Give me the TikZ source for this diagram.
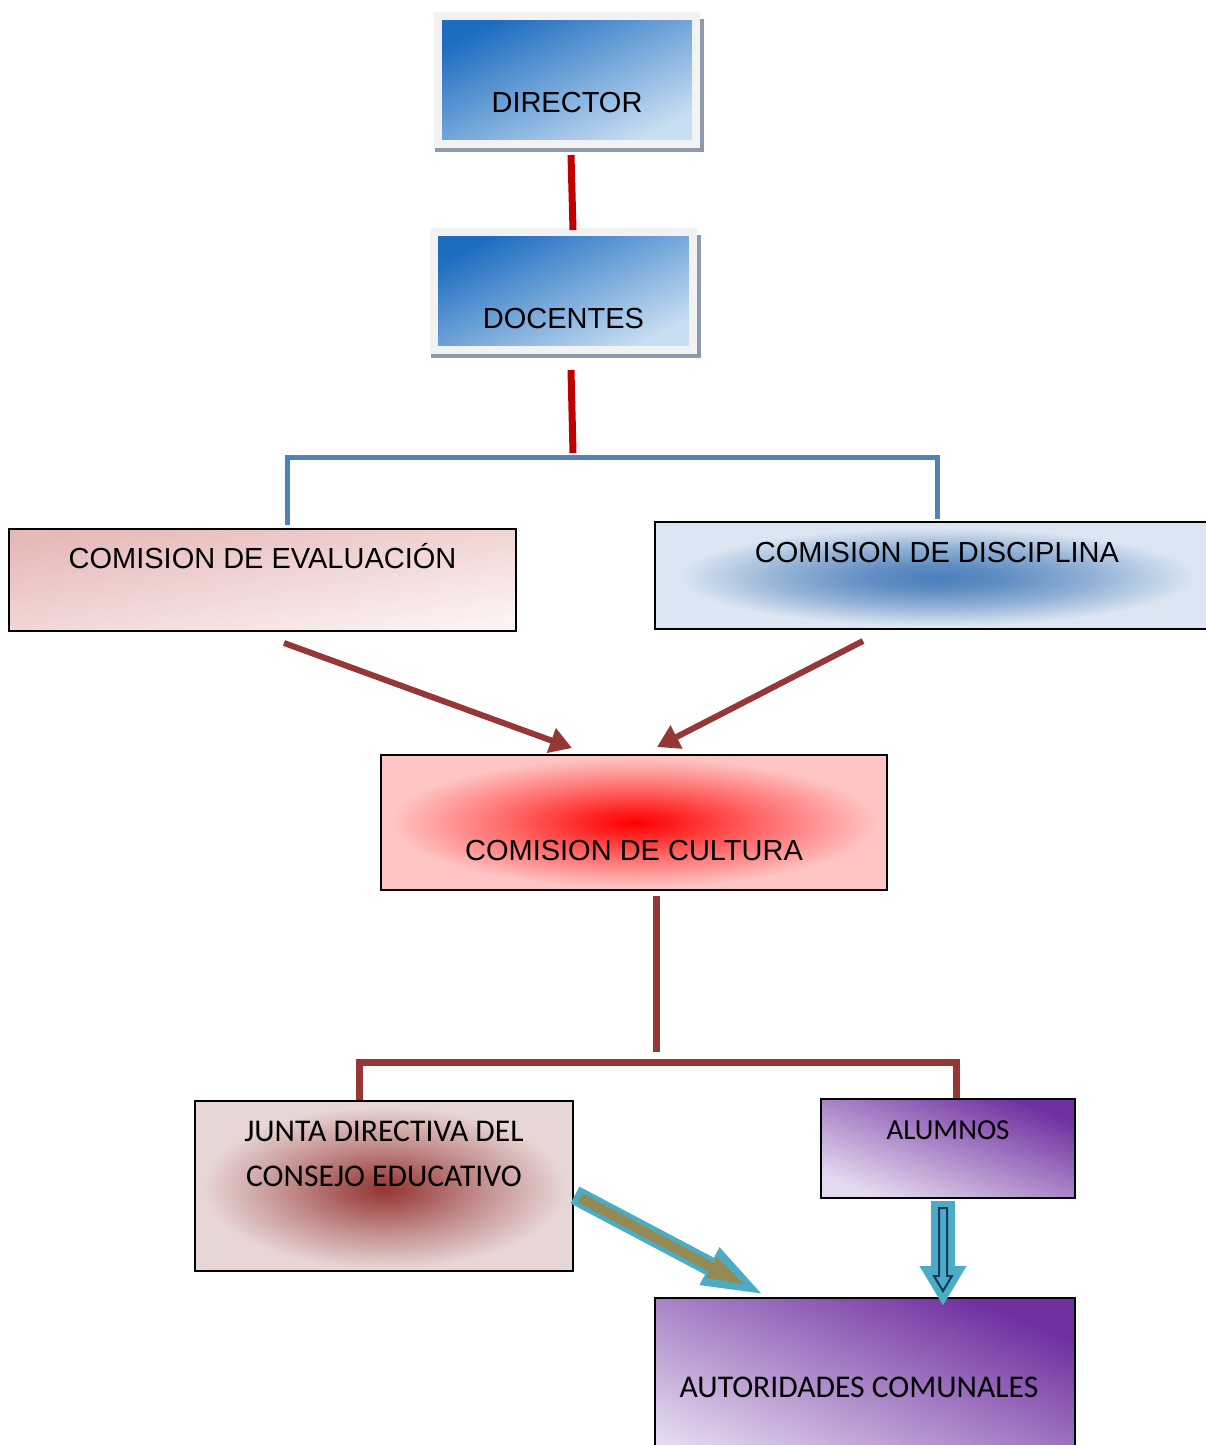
\documentclass[tikz,border=0pt]{standalone}
\usepackage{fontspec}
\setmainfont{Liberation Sans}
\newfontfamily\calibrifont{Carlito}
\usepackage{xcolor}
\usepackage{tikz}
\usetikzlibrary{arrows.meta, positioning, calc, shadows}
\definecolor{orgblue}{HTML}{1C6CC0}
\definecolor{orgbluelight}{HTML}{C8DEF2}
\definecolor{framegray}{HTML}{F2F2F2}
\definecolor{shadowgray}{HTML}{8E9AAB}
\definecolor{linered}{HTML}{C00000}
\definecolor{lineblue}{HTML}{4F81BD}
\definecolor{darkred}{HTML}{953735}
\definecolor{evalpink}{HTML}{E6B9B8}
\definecolor{evallight}{HTML}{FBF2F2}
\definecolor{disclight}{HTML}{DCE6F2}
\definecolor{discblue}{HTML}{4A7EBB}
\definecolor{cultpink}{HTML}{FFC4C4}
\definecolor{cultred}{HTML}{FF0000}
\definecolor{juntalight}{HTML}{E8D6D6}
\definecolor{juntadark}{HTML}{953735}
\definecolor{purpledark}{HTML}{7030A0}
\definecolor{purplelight}{HTML}{E4DAEF}
\definecolor{arrowcyan}{HTML}{4BACC6}
\definecolor{arrowolive}{HTML}{948A54}
\definecolor{arrownavy}{HTML}{17375E}
\pgfdeclareradialshading{juntashade}{\pgfpoint{0bp}{-1bp}}{color(0bp)=(juntadark); color(4bp)=(juntadark!85!juntalight);
    color(13bp)=(juntadark!45!juntalight); color(24bp)=(juntalight); color(50bp)=(juntalight)}
\pgfdeclareradialshading{culturashade}{\pgfpoint{0bp}{0bp}}{color(0bp)=(cultred); color(4bp)=(cultred!85!cultpink);
    color(13bp)=(cultred!45!cultpink); color(24bp)=(cultpink); color(50bp)=(cultpink)}
\pgfdeclareradialshading{disciplinashade}{\pgfpoint{0bp}{-1bp}}{color(0bp)=(discblue); color(6bp)=(discblue!85!disclight);
    color(14bp)=(discblue!50!disclight); color(23bp)=(disclight); color(50bp)=(disclight)}

\begin{document}
\begin{tikzpicture}[
    x=0.02cm, y=-0.02cm,
    topbox/.style={rectangle, draw=framegray, line width=0.16cm, top color=orgblue, bottom color=orgbluelight,
                   shading angle=26, minimum width=5.18cm, text depth=0pt, font=\fontsize{16.5}{20}\selectfont,
                   drop shadow={shadow xshift=0.05cm, shadow yshift=-0.1cm, shadow scale=1.04, fill=shadowgray, opacity=1}},
    orgbox/.style={rectangle, draw=black, line width=0.04cm, font=\fontsize{16.5}{20}\selectfont},
    calibribox/.style={orgbox, font=\calibrifont\fontsize{#1}{25.5}\selectfont},
    redline/.style={draw=linered, line width=0.14cm},
    blueline/.style={draw=lineblue, line width=0.1cm},
    bracketred/.style={draw=darkred, line width=0.14cm},
    arrowline/.style={draw=darkred, line width=0.12cm, -{Triangle[length=0.44cm, width=0.5cm]}},
    fatarrow/.style={draw=arrowcyan, line width=0.38cm, -{Triangle[length=1.28cm, width=0.74cm]}},
    fatinner/.style={draw=arrowolive, line width=0.2cm, -{Triangle[length=0.86cm, width=0.4cm]},
                     shorten <=0.12cm, shorten >=0.38cm},
    downarrow/.style={draw=arrowcyan, line width=0.48cm, -{Triangle[length=0.8cm, width=0.88cm]}},
]
\path[use as bounding box, clip] (0,0) rectangle (1206,1445);

% Top of the chart
\node[topbox, minimum height=2.56cm, text height=1.28cm] (director) at (567,80) {DIRECTOR};
\node[topbox, minimum height=2.36cm, text height=1.48cm] (docentes) at (563.5,291) {DOCENTES};

% Commissions
\node[orgbox, minimum width=10.14cm, minimum height=2.04cm, text height=0pt, text depth=0.48cm,
      top color=evalpink, bottom color=evallight, shading angle=11] (evaluacion) at (262.5,580) {COMISION DE EVALUACIÓN};
\node[orgbox, minimum width=11.28cm, minimum height=2.14cm, text height=0pt, text depth=0.54cm,
      shade, shading=disciplinashade] (disciplina) at (937,575.5) {COMISION DE DISCIPLINA};
\node[orgbox, minimum width=10.12cm, minimum height=2.7cm, text height=1.5cm, text depth=0pt,
      shade, shading=culturashade] (cultura) at (634,822.5) {COMISION DE CULTURA};

% Lower level
\node[calibribox=18, minimum width=7.56cm, minimum height=3.4cm, shade, shading=juntashade,
      label={[anchor=north, inner sep=0pt, align=center, yshift=-0.42cm, font=\calibrifont\fontsize{18}{25.5}\selectfont]north:{JUNTA DIRECTIVA DEL\\CONSEJO EDUCATIVO}}] (junta) at (384,1186) {};
\node[calibribox=16.5, minimum width=5.08cm, minimum height=1.98cm, text height=0pt, text depth=0.38cm,
      top color=purpledark, bottom color=purplelight, shading angle=-21] (alumnos) at (948,1148.5) {ALUMNOS};
\node[calibribox=18, minimum width=8.4cm, minimum height=3.64cm, text height=0.32cm, text depth=0pt,
      top color=purpledark, bottom color=purplelight, shading angle=-23] (autoridades) at (865,1389) {AUTORIDADES COMUNALES\hspace*{0.24cm}};

% Connectors
\coordinate (evalhub) at ($(docentes.south)+(8,104)$);
\coordinate (culturahub) at ($(cultura.south)+(22,161)$);
\draw[redline] ($(director.south)+(4,7)$) -- ($(docentes.north)+(9.5,2)$);
\draw[redline] ($(docentes.south)+(7.5,16)$) -- ($(evalhub)+(1.5,-5)$);
\draw[blueline] ($(evaluacion.north)+(24.5,-3)$) |- (evalhub) -| ($(disciplina.north)+(0,-2)$);

\draw[arrowline] ($(evaluacion.south)+(21.5,11)$) -- ($(cultura.north)+(-62,-6)$);
\draw[arrowline] ($(disciplina.south)+(-74,11)$) -- ($(cultura.north)+(23,-7)$);

\draw[bracketred] ($(cultura.south)+(22,5)$) -- (culturahub);
\draw[bracketred] ($(junta.north)+(-25,0)$) |- ($(culturahub)+(0,10)$) -| ($(alumnos.north)+(8,0)$);

% Block arrows
\draw[fatarrow] ($(junta.east)+(1,9)$) -- ($(autoridades.north west)+(112,-1)$);
\draw[fatinner] ($(junta.east)+(1,9)$) -- ($(autoridades.north west)+(112,-1)$);
\draw[downarrow] ($(alumnos.south)+(-5,2)$) -- ($(autoridades.north)+(78,9)$);
\coordinate (alumnosdrop) at ($(alumnos.south)+(-5,9)$);
\draw[arrownavy, line width=0.04cm] (alumnosdrop) ++(-4,0) -- ++(8,0) -- ++(0,68) -- ++(5,0)
     -- ++(-9,15) -- ++(-9,-15) -- ++(5,0) -- cycle;

\end{tikzpicture}
\end{document}
